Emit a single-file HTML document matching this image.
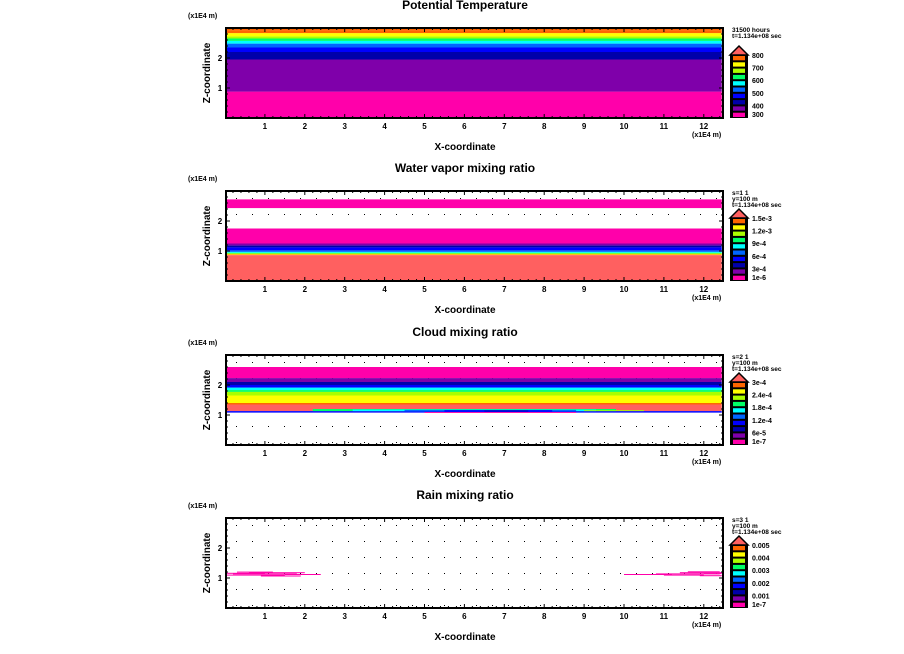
<!DOCTYPE html>
<html><head><meta charset="utf-8"><style>
html,body{margin:0;padding:0;background:#fff;width:904px;height:654px;overflow:hidden}
svg{display:block}
text{font-family:"Liberation Sans",sans-serif;font-weight:bold;fill:#000}
</style></head><body>
<svg id="chart" width="904" height="654" viewBox="0 0 904 654"></svg>
<script>
// ---- data ----
const colorScale = ['#ff00aa','#7f00aa','#0000aa','#0000ff','#0066ff','#00ffff','#00ff66','#aaff00','#ffff00','#ff6600','#ff6060'];
const panelTitles = ['Potential Temperature','Water vapor mixing ratio','Cloud mixing ratio','Rain mixing ratio'];
const xTicks = [1,2,3,4,5,6,7,8,9,10,11,12];
const yTicks = [1,2];
const legendHeader = [
  ['31500 hours','t=1.134e+08 sec'],
  ['s=1 1','y=100 m','t=1.134e+08 sec'],
  ['s=2 1','y=100 m','t=1.134e+08 sec'],
  ['s=3 1','y=100 m','t=1.134e+08 sec']];
const legendLabels = [
  ['800','700','600','500','400','300'],
  ['1.5e-3','1.2e-3','9e-4','6e-4','3e-4','1e-6'],
  ['3e-4','2.4e-4','1.8e-4','1.2e-4','6e-5','1e-7'],
  ['0.005','0.004','0.003','0.002','0.001','1e-7']];
// bands: bottom z, top z, color index
const p1Bottom = [0,0.88,1.95,2.2,2.35,2.48,2.57,2.65,2.72,2.83,2.93];
const p1Top    = [0.88,1.95,2.2,2.35,2.48,2.57,2.65,2.72,2.83,2.93,3.0];
const p1Color  = [0,1,2,3,4,5,6,7,8,9,9];
const p2Bottom = [2.43,1.25,1.18,1.12,1.02,0.97,0.94,0.92,0.9,0.88,0.86,0];
const p2Top    = [2.72,1.75,1.25,1.18,1.12,1.02,0.97,0.94,0.92,0.9,0.88,0.86];
const p2Color  = [0,0,1,2,3,4,5,6,7,8,9,10];
const p3Bottom = [2.23,2.1,2.0,1.93,1.9,1.83,1.77,1.65,1.4,1.35,1.13,1.08];
const p3Top    = [2.6,2.23,2.1,2.0,1.93,1.9,1.83,1.77,1.65,1.4,1.35,1.13];
const p3Color  = [0,1,2,3,4,5,6,7,8,9,10,3];
// cloud mid blob: x0,x1,z0,z1,color
const blobX0 = [2.2,3.2,4.5,5.5,6.5,5.0,9.0];
const blobX1 = [9.8,9.3,8.8,8.2,7.6,8.8,10.5];
const blobZ0 = [1.13,1.13,1.12,1.12,1.12,1.07,1.13];
const blobZ1 = [1.2,1.18,1.17,1.16,1.15,1.1,1.16];
const blobC  = [6,5,4,3,2,0,7];
// rain streaks: x0,x1,z
const rainX0 = [0.0,0.2,0.6,0.0,0.9,1.5,0.3,2.1,10.0,10.8,11.4,11.9,11.0,11.6,12.0];
const rainX1 = [1.0,1.8,2.0,1.5,1.9,2.3,1.2,2.4,11.2,12.4,12.45,12.45,12.0,12.4,12.45];
const rainZ  = [1.14,1.12,1.16,1.08,1.05,1.1,1.18,1.1,1.1,1.12,1.16,1.06,1.08,1.19,1.13];

// ---- drawing ----
const svg = document.getElementById('chart');
const NS = 'http://www.w3.org/2000/svg';
function mk(tag, attrs, parent){const e=document.createElementNS(NS,tag);for(const k in attrs)e.setAttribute(k,attrs[k]);(parent||svg).appendChild(e);return e;}
const X0=226, X1=723, XMAXU=12.45, panelTops=[28,191,355,518], PH=90;
const sx = v => 225 + v*39.9;
function txt(x,y,s,size,anchor,parent){const t=mk('text',{x:x,y:y,'font-size':size,'text-anchor':anchor||'start'},parent);t.textContent=s;return t;}

function drawPanel(i){
  const top=panelTops[i], bot=top+PH;
  const sy = z => bot - z*(PH/3);
  const g = mk('g',{});
  
  
  const tt=txt(465,top-19,panelTitles[i],12,'middle',g);
  
  
  for(let x=X0+10;x<X1;x+=16)for(let y=top+7;y<bot;y+=16){mk('rect',{x:x,y:y,width:1,height:1,fill:'#000'},g);}
  const clip = (x0,x1,z0,z1,c)=>{const r=mk('rect',{x:sx(x0),y:sy(z1),width:sx(Math.min(x1,XMAXU))-sx(x0),height:sy(z0)-sy(z1),fill:colorScale[c]},g);};
  let B,T,C;
  if(i===0){B=p1Bottom;T=p1Top;C=p1Color;}
  if(i===1){B=p2Bottom;T=p2Top;C=p2Color;}
  if(i===2){B=p3Bottom;T=p3Top;C=p3Color;}
  if(B){for(let k=0;k<B.length;k++)clip(0,XMAXU,B[k],T[k],C[k]);}
  if(i===2){for(let k=0;k<blobX0.length;k++)clip(blobX0[k],blobX1[k],blobZ0[k],blobZ1[k],blobC[k]);}
  if(i===3){for(let k=0;k<rainX0.length;k++){const r=mk('rect',{x:sx(rainX0[k]),y:sy(rainZ[k])-1,width:sx(rainX1[k])-sx(rainX0[k]),height:1,fill:colorScale[0]},g);}}
  mk('rect',{x:X0,y:top,width:X1-X0,height:PH,fill:'none',stroke:'#000','stroke-width':2},g);
  for(let v=0.2;v<XMAXU;v+=0.2){const x=sx(v);const major=Math.abs(v-Math.round(v))<0.01;const L=major?4:2;
    mk('line',{x1:x,x2:x,y1:bot,y2:bot-L,stroke:'#000','stroke-width':1},g);mk('line',{x1:x,x2:x,y1:top,y2:top+L,stroke:'#000','stroke-width':1},g);}
  xTicks.forEach(v=>{const t=txt(sx(v),bot+11,String(v),8,'middle',g);});
  for(let z=0.2;z<3;z+=0.2){const y=sy(z);const major=Math.abs(z-Math.round(z))<0.01;const L=major?4:2;
    mk('line',{x1:X0,x2:X0+L,y1:y,y2:y,stroke:'#000'},g);mk('line',{x1:X1,x2:X1-L,y1:y,y2:y,stroke:'#000'},g);}
  yTicks.forEach(v=>{const t=txt(220,sy(v)+3,String(v),8,'middle',g);});
  const xl=txt(465,bot+32,'X-coordinate',10,'middle',g);
  const u1=txt(188,top-10,'(x1E4 m)',7,'start',g);
  const u2=txt(692,bot+19,'(x1E4 m)',7,'start',g);
  const yl=mk('text',{x:0,y:0,'font-size':10,'text-anchor':'middle',transform:'translate(210,'+(top+PH/2)+') rotate(-90)'},g);yl.textContent='Z-coordinate';
  
  const lg=mk('g',{},g);
  legendHeader[i].forEach((s,k)=>txt(732,top+4+k*6,s,6.5,'start',lg));
  const bx=730,bw=18,bb=bot,bh=6.3;
  mk('polygon',{points:`${bx},${bb-10*bh} ${bx+bw/2},${bb-10*bh-9} ${bx+bw},${bb-10*bh}`,fill:colorScale[10],stroke:'#000','stroke-width':1.5},lg);
  mk('rect',{x:bx,y:bb-10*bh,width:bw,height:10*bh,fill:'#000'},lg);
  for(let k=0;k<10;k++){mk('rect',{x:bx+3,y:bb-(k+1)*bh+1,width:bw-6,height:bh-2,fill:colorScale[k]},lg);}
  legendLabels[i].forEach((s,k)=>txt(752,bb-(5-k)*2*bh+(k===5?-1:3),s,7,'start',lg));
}
for(let i=0;i<4;i++)drawPanel(i);
</script>
</body></html>
